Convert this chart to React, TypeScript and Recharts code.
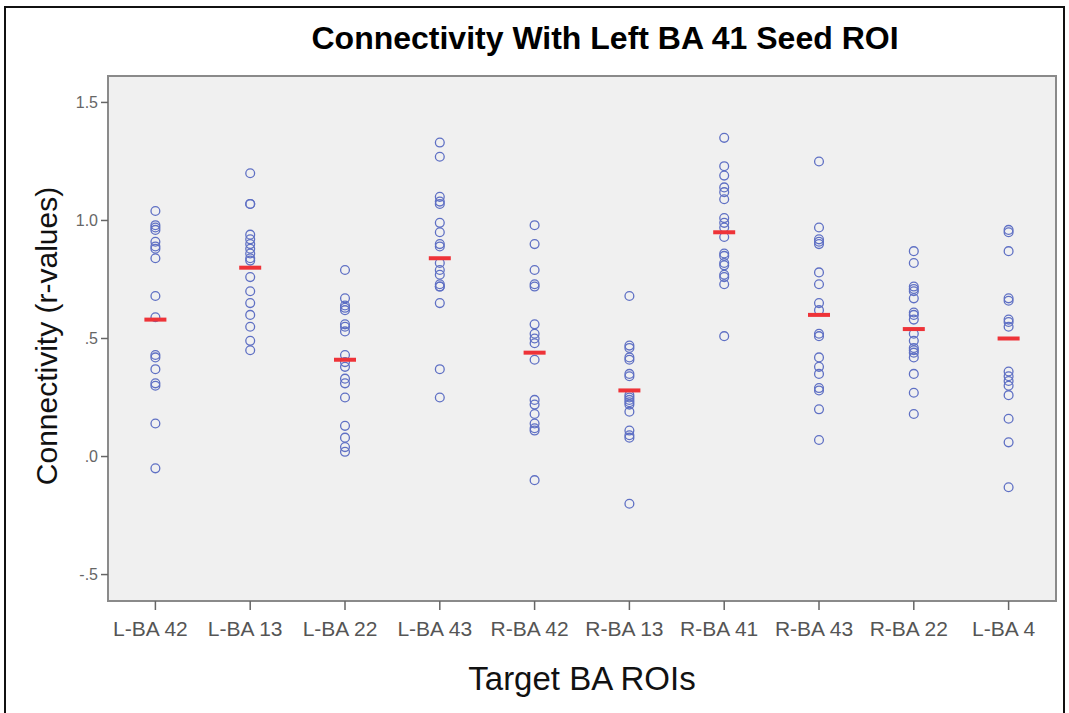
import React from "react";
import {
  ScatterChart,
  Scatter,
  XAxis,
  YAxis,
  ReferenceArea,
} from "recharts";

const categories = [
  "L-BA 42",
  "L-BA 13",
  "L-BA 22",
  "L-BA 43",
  "R-BA 42",
  "R-BA 13",
  "R-BA 41",
  "R-BA 43",
  "R-BA 22",
  "L-BA 4",
];

const lba42 = [1.04, 0.98, 0.97, 0.96, 0.91, 0.89, 0.88, 0.84, 0.68, 0.59, 0.43, 0.42, 0.37, 0.31, 0.3, 0.14, -0.05];
const lba13 = [1.2, 1.07, 1.07, 0.94, 0.92, 0.9, 0.88, 0.86, 0.84, 0.83, 0.76, 0.7, 0.65, 0.6, 0.55, 0.49, 0.45];
const lba22 = [0.79, 0.67, 0.64, 0.63, 0.62, 0.56, 0.55, 0.53, 0.43, 0.4, 0.38, 0.33, 0.31, 0.25, 0.13, 0.08, 0.04, 0.02];
const lba43 = [1.33, 1.27, 1.1, 1.08, 1.07, 0.99, 0.95, 0.9, 0.89, 0.82, 0.79, 0.77, 0.73, 0.72, 0.72, 0.65, 0.37, 0.25];
const rba42 = [0.98, 0.9, 0.79, 0.73, 0.72, 0.56, 0.52, 0.5, 0.48, 0.41, 0.24, 0.22, 0.18, 0.14, 0.12, 0.11, -0.1];
const rba13 = [0.68, 0.47, 0.46, 0.42, 0.41, 0.35, 0.34, 0.26, 0.25, 0.24, 0.23, 0.22, 0.19, 0.11, 0.09, 0.08, -0.2];
const rba41 = [1.35, 1.23, 1.19, 1.14, 1.12, 1.09, 1.01, 0.99, 0.97, 0.93, 0.86, 0.85, 0.82, 0.81, 0.77, 0.76, 0.73, 0.51];
const rba43 = [1.25, 0.97, 0.92, 0.91, 0.9, 0.78, 0.73, 0.65, 0.62, 0.52, 0.51, 0.42, 0.38, 0.35, 0.29, 0.28, 0.2, 0.07];
const rba22 = [0.87, 0.82, 0.72, 0.71, 0.7, 0.67, 0.61, 0.6, 0.58, 0.52, 0.49, 0.46, 0.45, 0.44, 0.42, 0.35, 0.27, 0.18];
const lba4 = [0.96, 0.95, 0.87, 0.67, 0.66, 0.58, 0.57, 0.55, 0.36, 0.34, 0.32, 0.3, 0.26, 0.16, 0.06, -0.13];

const seriesValues = [lba42, lba13, lba22, lba43, rba42, rba13, rba41, rba43, rba22, lba4];

const means = [0.58, 0.8, 0.41, 0.84, 0.44, 0.28, 0.95, 0.6, 0.54, 0.5];

const yTicks = [-0.5, 0, 0.5, 1.0, 1.5];

const pointData = seriesValues.flatMap((vals, i) =>
  vals.map((v) => ({ x: i + 1, y: v }))
);
const meanData = means.map((m, i) => ({ x: i + 1, y: m }));

const xTicks = categories.map((_, i) => i + 1);

const fmtY = (v: number) => v.toFixed(1).replace(/^(-?)0\./, "$1.");

const CircleShape = (props: any) => {
  const { cx, cy } = props;
  if (cx == null || cy == null) return null;
  return (
    <circle cx={cx} cy={cy} r={4.4} fill="none" stroke="#5f70c4" strokeWidth={1.3} />
  );
};

const MeanShape = (props: any) => {
  const { cx, cy } = props;
  if (cx == null || cy == null) return null;
  return <rect x={cx - 11} y={cy - 2} width={22} height={4} fill="#ee3338" />;
};

const font = "Arial, 'Liberation Sans', Helvetica, sans-serif";

export default function App() {
  return (
    <div
      style={{
        position: "absolute",
        left: 0,
        top: 0,
        width: 1069,
        height: 713,
        background: "#ffffff",
        fontFamily: font,
        overflow: "hidden",
      }}
    >
      <div
        style={{
          position: "absolute",
          left: 4,
          top: 6,
          width: 1061,
          height: 720,
          border: "2px solid #111",
          boxSizing: "border-box",
        }}
      />
      <div
        style={{
          position: "absolute",
          left: 0,
          top: 20,
          width: 1210,
          textAlign: "center",
          fontSize: 32,
          lineHeight: "normal",
          fontWeight: "bold",
          color: "#000",
          fontFamily: font,
          whiteSpace: "nowrap",
        }}
      >
        Connectivity With Left BA 41 Seed ROI
      </div>
      <div
        style={{
          position: "absolute",
          left: 0,
          top: 660,
          width: 1164,
          textAlign: "center",
          fontSize: 33,
          lineHeight: "normal",
          color: "#111",
          fontFamily: font,
          whiteSpace: "nowrap",
        }}
      >
        Target BA ROIs
      </div>
      <div
        style={{
          position: "absolute",
          left: 47,
          top: 336,
          transform: "translate(-50%, -50%) rotate(-90deg)",
          whiteSpace: "nowrap",
          fontSize: 30,
          lineHeight: "normal",
          color: "#111",
          fontFamily: font,
        }}
      >
        Connectivity (r-values)
      </div>
      <div style={{ position: "absolute", left: 0, top: 0 }}>
        <ScatterChart
          width={1069}
          height={713}
          margin={{ top: 76, right: 13, bottom: 72, left: 48 }}
        >
          <ReferenceArea
            x1={0.5}
            x2={10.5}
            y1={-0.612}
            y2={1.612}
            fill="#f0f0f0"
            fillOpacity={1}
            stroke="#8a8a8a"
            strokeWidth={2}
            ifOverflow="visible"
          />
          <XAxis
            type="number"
            dataKey="x"
            domain={[0.5, 10.5]}
            ticks={xTicks}
            tickFormatter={(v: number) => categories[v - 1] ?? ""}
            interval={0}
            height={40}
            axisLine={{ stroke: "#8a8a8a", strokeWidth: 2 }}
            tickLine={{ stroke: "#666", strokeWidth: 1.5 }}
            tickSize={9}
            tick={{ fill: "#555", fontSize: 21, fontFamily: font, dx: -5 }}
            tickMargin={11}
          />
          <YAxis
            type="number"
            dataKey="y"
            domain={[-0.612, 1.612]}
            ticks={yTicks}
            tickFormatter={fmtY}
            width={60}
            axisLine={{ stroke: "#8a8a8a", strokeWidth: 2 }}
            tickLine={{ stroke: "#666", strokeWidth: 1.5 }}
            tickSize={7}
            tick={{ fill: "#666", fontSize: 16, fontFamily: font }}
            tickMargin={3}
          />
          <Scatter data={pointData} shape={CircleShape} isAnimationActive={false} />
          <Scatter data={meanData} shape={MeanShape} isAnimationActive={false} />
        </ScatterChart>
      </div>
    </div>
  );
}
